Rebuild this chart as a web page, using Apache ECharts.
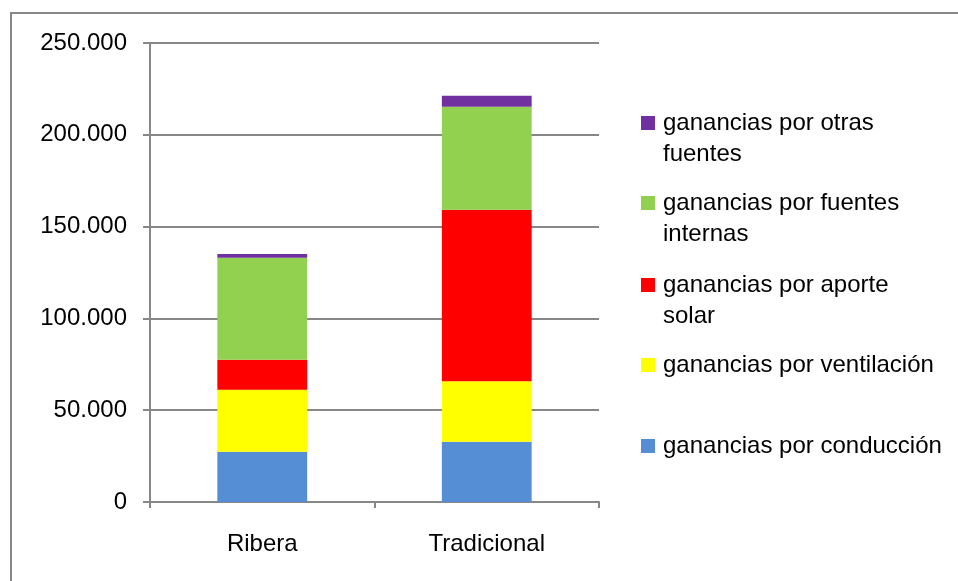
<!DOCTYPE html>
<html>
<head>
<meta charset="utf-8">
<script src="https://cdn.jsdelivr.net/npm/echarts@6/dist/echarts.min.js"></script>
<style>
  html, body { margin: 0; padding: 0; background: #ffffff; }
  #chart { width: 958px; height: 581px; }
</style>
</head>
<body>
<div id="chart"></div>
<script>
// Building types on the x axis
const categories = ['Ribera', 'Tradicional'];

// Heat gains per source (stacked bottom to top)
const conduccion   = [27400, 32800];
const ventilacion  = [33800, 32900];
const aporteSolar  = [16300, 93500];
const fuentesInt   = [55600, 56100];
const otrasFuentes = [2000, 6000];

// Value axis ticks
const yTicks = [0, 50000, 100000, 150000, 200000, 250000];

const seriesNames = [
  'ganancias por conducción',
  'ganancias por ventilación',
  'ganancias por aporte solar',
  'ganancias por fuentes internas',
  'ganancias por otras fuentes'
];
const seriesData = [conduccion, ventilacion, aporteSolar, fuentesInt, otrasFuentes];
const seriesColors = ['#558ED5', '#FFFF00', '#FF0000', '#92D050', '#7030A0'];

// Legend labels as shown (long ones wrap onto a second line)
const legendLabels = {
  'ganancias por otras fuentes': ['ganancias por otras', 'fuentes'],
  'ganancias por fuentes internas': ['ganancias por fuentes', 'internas'],
  'ganancias por aporte solar': ['ganancias por aporte', 'solar'],
  'ganancias por ventilación': ['ganancias por ventilación'],
  'ganancias por conducción': ['ganancias por conducción']
};

const FONT = "'Liberation Sans', Arial, sans-serif";
const GRAY = '#878787';
const LH = 31;

function fmtThousands(v) {
  return String(v).replace(/\B(?=(\d{3})+(?!\d))/g, '.');
}

// One legend block per entry. Legend text is centred on its marker, so a
// wrapped label gets an empty leading line to keep the marker beside line one.
const legendOrder = seriesNames.slice().reverse();
const legendIconCenters = [123, 203, 285, 365, 446];
const legends = legendOrder.map(function (name, i) {
  const lines = legendLabels[name];
  const twoLine = lines.length > 1;
  const half = twoLine ? (3 * LH) / 2 : LH / 2;
  return {
    data: [name],
    orient: 'vertical',
    left: 641,
    top: legendIconCenters[i] - half,
    padding: 0,
    itemWidth: 14,
    itemHeight: 14,
    icon: 'rect',
    selectedMode: false,
    formatter: function (n) {
      const l = legendLabels[n];
      return l.length > 1 ? '{s| }\n{t|' + l.join('}\n{t|') + '}' : '{t|' + l[0] + '}';
    },
    textStyle: {
      fontFamily: FONT,
      fontSize: 24,
      color: '#000',
      lineHeight: LH,
      rich: {
        t: { fontFamily: FONT, fontSize: 24, color: '#000', lineHeight: LH, padding: [0, 0, 0, 3] },
        s: { fontFamily: FONT, fontSize: 24, color: '#fff', lineHeight: LH }
      }
    }
  };
});

const chart = echarts.init(document.getElementById('chart'), null, { renderer: 'canvas' });

chart.setOption({
  backgroundColor: '#ffffff',
  animation: false,
  textStyle: { fontFamily: FONT },
  graphic: [{
    type: 'rect',
    shape: { x: 11, y: 13, width: 1000, height: 700 },
    style: { fill: 'none', stroke: GRAY, lineWidth: 2 },
    silent: true,
    z: -1
  }],
  legend: legends,
  grid: { left: 150, right: 359, top: 43, bottom: 79, containLabel: false },
  xAxis: {
    type: 'category',
    data: categories,
    boundaryGap: true,
    axisLine: { show: true, lineStyle: { color: GRAY, width: 2 } },
    axisTick: { show: true, length: 6, alignWithLabel: false, lineStyle: { color: GRAY, width: 2 } },
    axisLabel: { color: '#000', fontSize: 24, fontFamily: FONT, margin: 30 },
    splitLine: { show: false }
  },
  yAxis: {
    type: 'value',
    min: yTicks[0],
    max: yTicks[yTicks.length - 1],
    interval: yTicks[1] - yTicks[0],
    axisLine: { show: true, lineStyle: { color: GRAY, width: 2 } },
    axisTick: { show: true, inside: false, length: 7, lineStyle: { color: GRAY, width: 2 } },
    axisLabel: { color: '#000', fontSize: 24, fontFamily: FONT, margin: 23, formatter: fmtThousands },
    splitLine: { show: true, lineStyle: { color: GRAY, width: 2 } }
  },
  series: seriesNames.map(function (name, i) {
    return {
      name: name,
      type: 'bar',
      stack: 'total',
      barWidth: '40%',
      data: seriesData[i],
      itemStyle: { color: seriesColors[i] }
    };
  })
});
</script>
</body>
</html>
